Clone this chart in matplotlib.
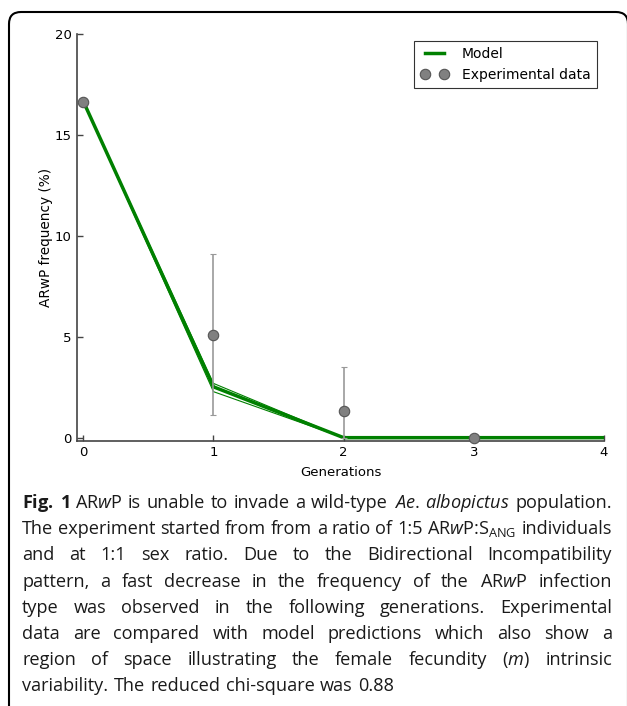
import matplotlib
matplotlib.use('Agg')
from matplotlib import pyplot as plt
from matplotlib.patches import FancyBboxPatch
from matplotlib.lines import Line2D

plt.rcParams['mathtext.fontset'] = 'custom'
plt.rcParams['mathtext.rm'] = 'Open Sans'
plt.rcParams['mathtext.it'] = 'Open Sans:italic'
plt.rcParams['mathtext.bf'] = 'Open Sans:bold'

# data
generations = [0, 1, 2, 3, 4]
model = [16.67, 2.52, 0.0, 0.0, 0.0]
model_upper = [16.67, 2.69, 0.0, 0.0, 0.0]
model_lower = [16.67, 2.28, 0.0, 0.0, 0.0]

exp_gen = [0, 1, 2, 3]
exp_freq = [16.63, 5.07, 1.32, 0.0]
err_low = [0.0, 3.96, 1.32, 0.0]
err_high = [0.0, 4.01, 2.2, 0.0]

# caption, one list of words per line (all lines but the last are justified)
caption_lines = [
    [r'$\mathbf{Fig.}$', r'$\mathbf{1}$', r'AR$\mathit{w}$P', 'is', 'unable', 'to', 'invade', 'a',
     'wild-type', r'$\mathit{Ae.}$', r'$\mathit{albopictus}$', 'population.'],
    ['The', 'experiment', 'started', 'from', 'from', 'a', 'ratio', 'of', '1:5',
     r'AR$\mathit{w}$P:S$_{\mathrm{ANG}}$', 'individuals'],
    ['and', 'at', '1:1', 'sex', 'ratio.', 'Due', 'to', 'the', 'Bidirectional', 'Incompatibility'],
    ['pattern,', 'a', 'fast', 'decrease', 'in', 'the', 'frequency', 'of', 'the',
     r'AR$\mathit{w}$P', 'infection'],
    ['type', 'was', 'observed', 'in', 'the', 'following', 'generations.', 'Experimental'],
    ['data', 'are', 'compared', 'with', 'model', 'predictions', 'which', 'also', 'show', 'a'],
    ['region', 'of', 'space', 'illustrating', 'the', 'female', 'fecundity',
     r'($\mathit{m}$)', 'intrinsic'],
    ['variability.', 'The', 'reduced', 'chi-square', 'was', '0.88'],
]

W, H = 627, 706
fig = plt.figure(figsize=(W / 100, H / 100), dpi=100)
ax = fig.add_axes([77 / W, 1 - 440.7 / H, (604 - 77) / W, (440.7 - 34) / H])

green = '#008000'
ax.plot(generations, model_upper, color=green, lw=0.8)
ax.plot(generations, model_lower, color=green, lw=0.8)
ax.plot(generations, model, color=green, lw=2.5)
ax.errorbar(exp_gen, exp_freq, yerr=[err_low, err_high], fmt='o', color='#808080',
            ecolor='#999999', elinewidth=1.2, capsize=2.2, markersize=7.5,
            markeredgecolor='#555555', markeredgewidth=0.8, clip_on=False, zorder=5)

ax.set_xlim(-0.048, 4)
ax.set_ylim(-0.15, 20)
ax.set_xticks([0, 1, 2, 3, 4])
ax.set_yticks([0, 5, 10, 15, 20])
ax.spines['top'].set_visible(False)
ax.spines['right'].set_visible(False)
for s in ['left', 'bottom']:
    ax.spines[s].set_color('#444444')
    ax.spines[s].set_linewidth(1.2)
ax.tick_params(direction='in', length=4, width=1, color='#444444', labelsize=9.5, pad=4)
ax.set_xlabel('Generations', fontsize=9.5, labelpad=5)
ax.set_ylabel('ARwP frequency (%)', fontsize=9.8, labelpad=1)

h_model = Line2D([], [], color=green, lw=2.5)
h_exp = Line2D([], [], ls='none', marker='o', color='#808080', markersize=7.5,
               markeredgecolor='#555555', markeredgewidth=0.8)
leg = ax.legend([h_model, h_exp], ['Model', 'Experimental data'], loc='upper right',
                numpoints=2, fancybox=False, edgecolor='black', fontsize=10,
                borderaxespad=0.5, handlelength=2.0, handletextpad=1.0, borderpad=0.45)
leg.get_frame().set_linewidth(0.8)

# caption box
box = FancyBboxPatch((9, -30), 619, H - 12 + 30, boxstyle='round,pad=0,rounding_size=12',
                     transform=None, facecolor='none', edgecolor='black', lw=1.5)
fig.add_artist(box)

# justified caption
renderer = fig.canvas.get_renderer()
x_left, x_right = 22, 612
cap_size = 13.1
sp = fig.text(0, 0, 'a b', family='Open Sans', fontsize=cap_size)
sp_a = fig.text(0, 0, 'ab', family='Open Sans', fontsize=cap_size)
space_w = sp.get_window_extent(renderer).width - sp_a.get_window_extent(renderer).width
sp.remove()
sp_a.remove()

for i, words in enumerate(caption_lines):
    yb = 1 - (508 + 26.2 * i) / H
    texts = [fig.text(0, yb, w, family='Open Sans', fontsize=cap_size, va='baseline',
                      ha='left', color='#1a1a1a') for w in words]
    widths = [t.get_window_extent(renderer).width for t in texts]
    if i < len(caption_lines) - 1:
        gap = (x_right - x_left - sum(widths)) / (len(words) - 1)
    else:
        gap = max(space_w, 5.5)
    x = x_left
    for t, w in zip(texts, widths):
        t.set_x(x / W)
        x += w + gap

fig.savefig('out.png', dpi=100)
